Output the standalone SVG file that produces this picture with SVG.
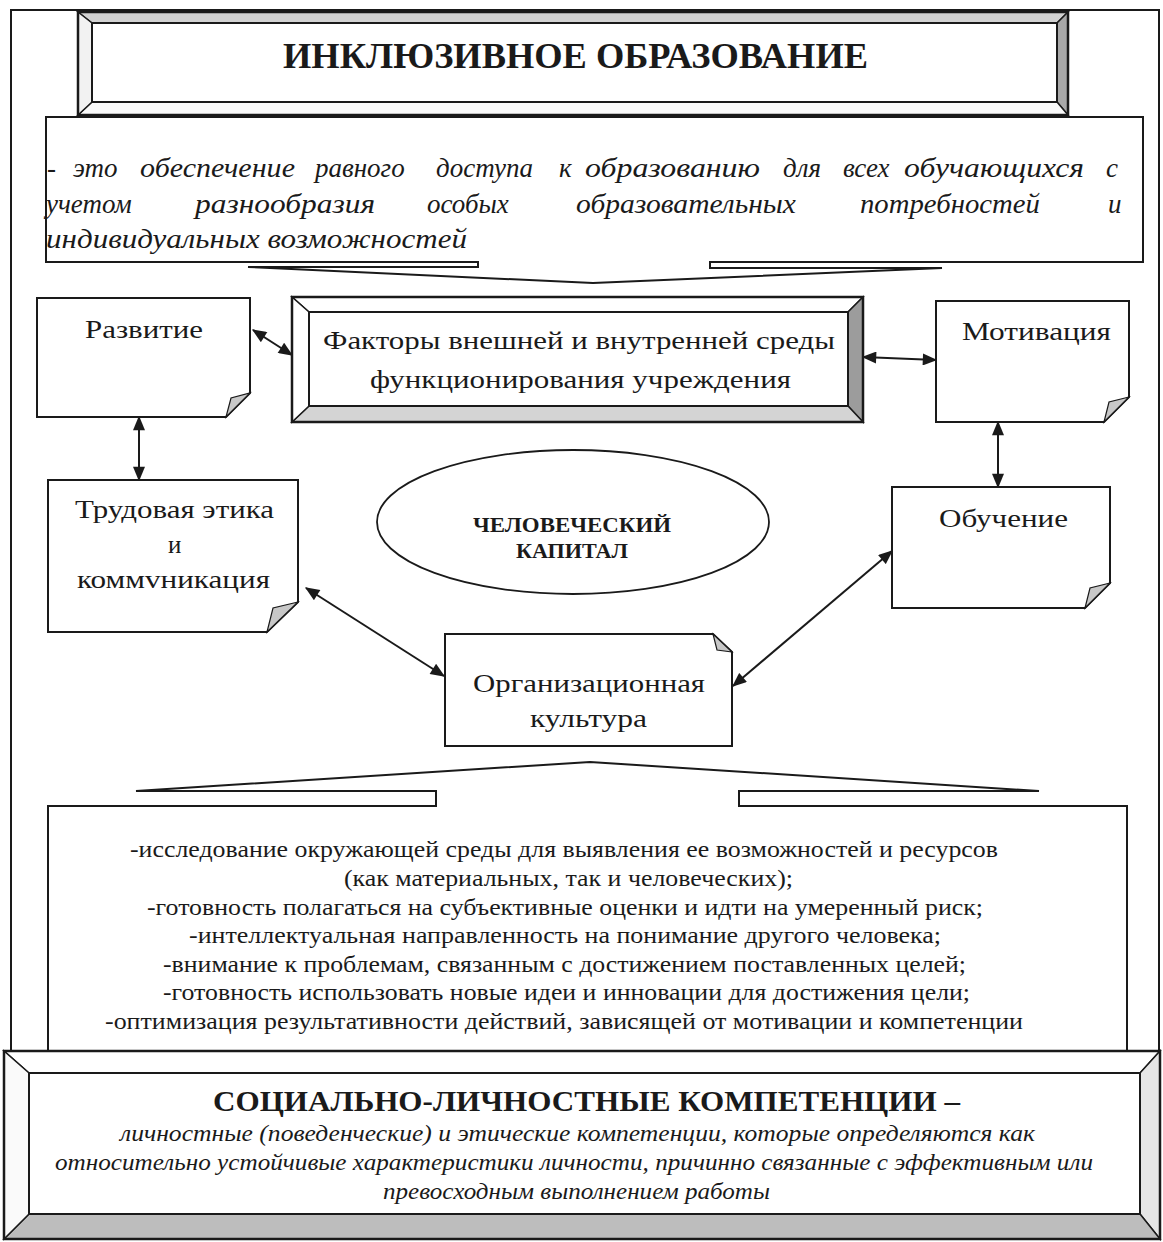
<svg xmlns="http://www.w3.org/2000/svg" width="1163" height="1242" viewBox="0 0 1163 1242" font-family="'Liberation Serif', 'DejaVu Serif', serif">
<style>
  .box{fill:#fff;stroke:#1a1a1a;stroke-width:2}
  .fold{fill:#c8c8c8;stroke:#1a1a1a;stroke-width:1.2}
  .bv{stroke:#1a1a1a;stroke-width:1.5}
  .t{font-family:'Liberation Serif', 'DejaVu Serif', serif;fill:#1a1a1a}
  .it{font-style:italic}
  .b{font-weight:bold}
  .arr{fill:none;stroke:#1a1a1a;stroke-width:2;marker-start:url(#ah);marker-end:url(#ah)}
</style>
<defs>
  <marker id="ah" viewBox="0 0 12 10" markerUnits="userSpaceOnUse" markerWidth="16" markerHeight="12" refX="11" refY="5" orient="auto-start-reverse">
    <path d="M0,0 L12,5 L0,10 z" fill="#1a1a1a"/>
  </marker>
</defs>
<rect width="1163" height="1242" fill="#fff"/>

<g id="frame">
  <rect x="11" y="10" width="1148" height="1050" fill="none" stroke="#1a1a1a" stroke-width="2"/>
</g>

<g id="title">
  <polygon class="bv" points="78,12 1068,12 1057,23 92,23" fill="#d2d2d2"/>
  <polygon class="bv" points="1068,12 1068,115 1057,102 1057,23" fill="#a8a8a8"/>
  <polygon class="bv" points="78,115 1068,115 1057,102 92,102" fill="#fafafa"/>
  <polygon class="bv" points="78,12 78,115 92,102 92,23" fill="#f2f2f2"/>
  <rect x="92" y="23" width="965" height="79" fill="#fff" stroke="#1a1a1a" stroke-width="2"/>
  <rect x="78" y="12" width="990" height="103" fill="none" stroke="#1a1a1a" stroke-width="2.5"/>
  <text class="t b" x="283" y="68" font-size="35" textLength="585" lengthAdjust="spacingAndGlyphs">ИНКЛЮЗИВНОЕ ОБРАЗОВАНИЕ</text>
</g>

<g id="definition">
  <path class="box" d="M46,117 H1143 V262 H710 V268 H942 L593,283 L248,267 H478 V262 H46 Z"/>
  <g class="t it" font-size="27">
    <text x="47" y="177">-</text>
    <text x="73" y="177">это</text>
    <text x="140" y="177" textLength="155" lengthAdjust="spacingAndGlyphs">обеспечение</text>
    <text x="315" y="177">равного</text>
    <text x="436" y="177">доступа</text>
    <text x="559" y="177">к</text>
    <text x="585" y="177" textLength="175" lengthAdjust="spacingAndGlyphs">образованию</text>
    <text x="783" y="177">для</text>
    <text x="843" y="177">всех</text>
    <text x="904" y="177" textLength="180" lengthAdjust="spacingAndGlyphs">обучающихся</text>
    <text x="1106" y="177">с</text>
    <text x="46" y="213">учетом</text>
    <text x="195" y="213" textLength="180" lengthAdjust="spacingAndGlyphs">разнообразия</text>
    <text x="427" y="213">особых</text>
    <text x="576" y="213" textLength="220" lengthAdjust="spacingAndGlyphs">образовательных</text>
    <text x="860" y="213" textLength="180" lengthAdjust="spacingAndGlyphs">потребностей</text>
    <text x="1108" y="213">и</text>
    <text x="46" y="248" textLength="421" lengthAdjust="spacingAndGlyphs">индивидуальных возможностей</text>
  </g>
</g>

<g id="connectors">
  <line class="arr" x1="253" y1="330" x2="292" y2="355"/>
  <line class="arr" x1="863" y1="357" x2="936" y2="360"/>
  <line class="arr" x1="139" y1="417" x2="139" y2="480"/>
  <line class="arr" x1="998" y1="422" x2="998" y2="487"/>
  <line class="arr" x1="306" y1="588" x2="444" y2="676"/>
  <line class="arr" x1="733" y1="686" x2="892" y2="551"/>
</g>

<g id="razvitie">
  <path class="box" d="M37,298 H250 V393 L226,417 H37 Z"/>
  <path class="fold" d="M226,417 L231,398 L250,393 Z"/>
  <text class="t" x="85" y="338" font-size="25" textLength="118" lengthAdjust="spacingAndGlyphs">Развитие</text>
</g>

<g id="factors">
  <polygon class="bv" points="292,297 863,297 848,312 309,312" fill="#fff"/>
  <polygon class="bv" points="863,297 863,422 848,406 848,312" fill="#9c9c9c"/>
  <polygon class="bv" points="292,422 863,422 848,406 309,406" fill="#d4d4d4"/>
  <polygon class="bv" points="292,297 292,422 309,406 309,312" fill="#fff"/>
  <rect x="309" y="312" width="539" height="94" fill="#fff" stroke="#1a1a1a" stroke-width="2"/>
  <rect x="292" y="297" width="571" height="125" fill="none" stroke="#1a1a1a" stroke-width="2.5"/>
  <text class="t" x="323" y="349" font-size="26" textLength="512" lengthAdjust="spacingAndGlyphs">Факторы внешней и внутренней среды</text>
  <text class="t" x="370" y="388" font-size="26" textLength="421" lengthAdjust="spacingAndGlyphs">функционирования учреждения</text>
</g>

<g id="motivacia">
  <path class="box" d="M936,301 H1129 V397 L1104,422 H936 Z"/>
  <path class="fold" d="M1104,422 L1109,402 L1129,397 Z"/>
  <text class="t" x="962" y="340" font-size="25" textLength="149" lengthAdjust="spacingAndGlyphs">Мотивация</text>
</g>

<g id="trudovaya">
  <path class="box" d="M48,480 H298 V602 L267,632 H48 Z"/>
  <path class="fold" d="M267,632 L273,608 L298,602 Z"/>
  <text class="t" x="75" y="518" font-size="25" textLength="199" lengthAdjust="spacingAndGlyphs">Трудовая этика</text>
  <text class="t" x="168" y="553" font-size="25">и</text>
  <text class="t" x="77" y="588" font-size="25" textLength="193" lengthAdjust="spacingAndGlyphs">коммvникация</text>
</g>

<g id="capital">
  <ellipse cx="573" cy="522" rx="196" ry="72" fill="#fff" stroke="#1a1a1a" stroke-width="1.8"/>
  <text class="t b" x="572" y="532" font-size="21" text-anchor="middle" textLength="198" lengthAdjust="spacingAndGlyphs">ЧЕЛОВЕЧЕСКИЙ</text>
  <text class="t b" x="572" y="558" font-size="21" text-anchor="middle" textLength="112" lengthAdjust="spacingAndGlyphs">КАПИТАЛ</text>
</g>

<g id="obuchenie">
  <path class="box" d="M892,487 H1110 V583 L1085,608 H892 Z"/>
  <path class="fold" d="M1085,608 L1090,588 L1110,583 Z"/>
  <text class="t" x="939" y="527" font-size="25" textLength="129" lengthAdjust="spacingAndGlyphs">Обучение</text>
</g>

<g id="orgculture">
  <path class="box" d="M445,634 H713 L732,652 V746 H445 Z"/>
  <path class="fold" d="M713,634 L717,650 L732,652 Z"/>
  <text class="t" x="473" y="692" font-size="25" textLength="232" lengthAdjust="spacingAndGlyphs">Организационная</text>
  <text class="t" x="530" y="727" font-size="25" textLength="117" lengthAdjust="spacingAndGlyphs">культура</text>
</g>

<g id="qualities">
  <path class="box" d="M48,1060 V806 H436 V791 H136 L590,762 L1039,791 H739 V806 H1127 V1060 Z"/>
  <g class="t" font-size="23">
    <text x="130" y="857" textLength="868" lengthAdjust="spacingAndGlyphs">-исследование окружающей среды для выявления ее возможностей и ресурсов</text>
    <text x="344" y="886" textLength="449" lengthAdjust="spacingAndGlyphs">(как материальных, так и человеческих);</text>
    <text x="147" y="915" textLength="836" lengthAdjust="spacingAndGlyphs">-готовность полагаться на субъективные оценки и идти на умеренный риск;</text>
    <text x="189" y="943" textLength="752" lengthAdjust="spacingAndGlyphs">-интеллектуальная направленность на понимание другого человека;</text>
    <text x="163" y="972" textLength="803" lengthAdjust="spacingAndGlyphs">-внимание к проблемам, связанным с достижением поставленных целей;</text>
    <text x="163" y="1000" textLength="807" lengthAdjust="spacingAndGlyphs">-готовность использовать новые идеи и инновации для достижения цели;</text>
    <text x="105" y="1029" textLength="918" lengthAdjust="spacingAndGlyphs">-оптимизация результативности действий, зависящей от мотивации и компетенции</text>
  </g>
</g>

<g id="competencies">
  <polygon class="bv" points="4,1051 1160,1051 1140,1073 29,1073" fill="#fff"/>
  <polygon class="bv" points="1160,1051 1160,1239 1140,1214 1140,1073" fill="#e6e6e6"/>
  <polygon class="bv" points="4,1239 1160,1239 1140,1214 29,1214" fill="#bdbdbd"/>
  <polygon class="bv" points="4,1051 4,1239 29,1214 29,1073" fill="#fafafa"/>
  <rect x="29" y="1073" width="1111" height="141" fill="#fff" stroke="#1a1a1a" stroke-width="2"/>
  <rect x="4" y="1051" width="1156" height="188" fill="none" stroke="#1a1a1a" stroke-width="2.5"/>
  <text class="t b" x="213" y="1111" font-size="30" textLength="747" lengthAdjust="spacingAndGlyphs">СОЦИАЛЬНО-ЛИЧНОСТНЫЕ КОМПЕТЕНЦИИ –</text>
  <text class="t it" x="120" y="1141" font-size="23" textLength="915" lengthAdjust="spacingAndGlyphs">личностные (поведенческие) и этические компетенции, которые определяются как</text>
  <text class="t it" x="55" y="1170" font-size="23" textLength="1038" lengthAdjust="spacingAndGlyphs">относительно устойчивые характеристики личности, причинно связанные с эффективным или</text>
  <text class="t it" x="383" y="1199" font-size="23" textLength="387" lengthAdjust="spacingAndGlyphs">превосходным выполнением работы</text>
</g>
</svg>
